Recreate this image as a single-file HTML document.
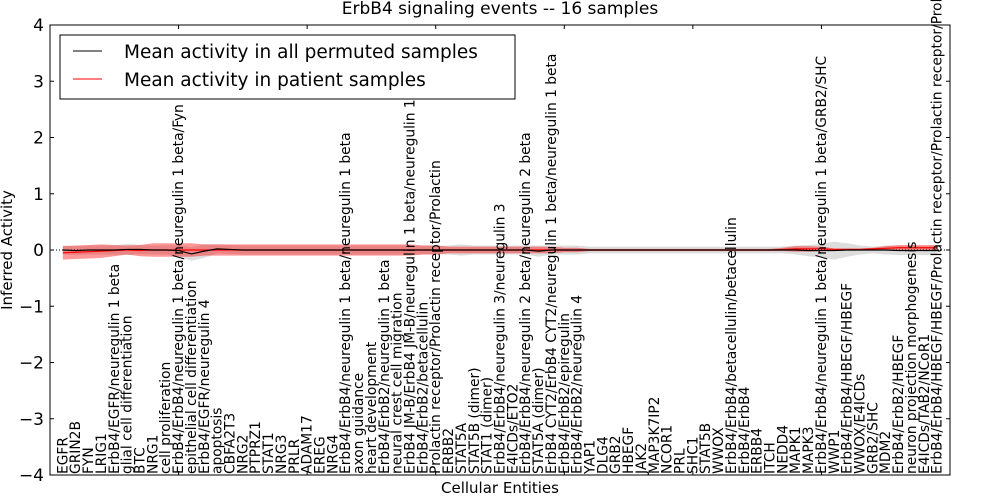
<!DOCTYPE html>
<html><head><meta charset="utf-8"><style>
html,body{margin:0;padding:0;background:#fff;}
svg{display:block;font-family:"DejaVu Sans","Liberation Sans",sans-serif;}
</style></head><body>
<svg id="chart" width="1000" height="500" viewBox="0 0 1000 500" xmlns="http://www.w3.org/2000/svg">
<text x="500" y="14" font-size="17" text-anchor="middle">ErbB4 signaling events -- 16 samples</text>
<text transform="translate(12,250) rotate(-90)" font-size="15" text-anchor="middle">Inferred Activity</text>
<text x="500" y="493" font-size="15" text-anchor="middle">Cellular Entities</text>
<g id="bands"></g>
<g id="lines"></g>
<g id="labels"></g>
<rect x="50" y="25" width="900" height="450" fill="none" stroke="#000" stroke-width="1"/>
<g id="yticks"></g>
<g id="xticks"></g>
<g>
<rect x="60" y="35" width="455" height="64" fill="#fff" stroke="#000" stroke-width="1"/>
<line x1="73" y1="51" x2="102" y2="51" stroke="#000" stroke-width="1"/>
<text x="124" y="58" font-size="18.5">Mean activity in all permuted samples</text>
<line x1="73" y1="79" x2="102" y2="79" stroke="#f00" stroke-width="1"/>
<text x="124" y="86" font-size="18.5">Mean activity in patient samples</text>
</g>
</svg>
<script>
const categories = ["EGFR","GRIN2B","FYN","LRIG1","ErbB4/EGFR/neuregulin 1 beta","glial cell differentiation","BTC","NRG1","cell proliferation","ErbB4/ErbB4/neuregulin 1 beta/neuregulin 1 beta/Fyn","epithelial cell differentiation","ErbB4/EGFR/neuregulin 4","apoptosis","CBFA2T3","NRG2","PTPRZ1","STAT1","NRG3","PRLR","ADAM17","EREG","NRG4","ErbB4/ErbB4/neuregulin 1 beta/neuregulin 1 beta","axon guidance","heart development","ErbB4/ErbB2/neuregulin 1 beta","neural crest cell migration","ErbB4 JM-B/ErbB4 JM-B/neuregulin 1 beta/neuregulin 1 beta","ErbB4/ErbB2/betacellulin","Prolactin receptor/Prolactin receptor/Prolactin","ERBB2","STAT5A","STAT5B (dimer)","STAT1 (dimer)","ErbB4/ErbB4/neuregulin 3/neuregulin 3","E4ICDs/ETO2","ErbB4/ErbB4/neuregulin 2 beta/neuregulin 2 beta","STAT5A (dimer)","ErbB4 CYT2/ErbB4 CYT2/neuregulin 1 beta/neuregulin 1 beta","ErbB4/ErbB2/epiregulin","ErbB4/ErbB2/neuregulin 4","YAP1","DLG4","GRB2","HBEGF","JAK2","MAP3K7IP2","NCOR1","PRL","SHC1","STAT5B","WWOX","ErbB4/ErbB4/betacellulin/betacellulin","ErbB4/ErbB4","ERBB4","ITCH","NEDD4","MAPK1","MAPK3","ErbB4/ErbB4/neuregulin 1 beta/neuregulin 1 beta/GRB2/SHC","WWP1","ErbB4/ErbB4/HBEGF/HBEGF","WWOX/E4ICDs","GRB2/SHC","MDM2","ErbB4/ErbB2/HBEGF","neuron projection morphogenesis","E4ICDs/TAB2/NCoR1","ErbB4/ErbB4/HBEGF/HBEGF/Prolactin receptor/Prolactin receptor/Prolactin"];
const permutedMean = [0,-0.01,0,0,0,0.01,0.01,0,0,-0.01,-0.07,-0.02,0.02,0.01,0,0,0,0,0,0,0,0,0,0,0,0,0,0,0,0,0,0,0,0,0,0,0,-0.02,0,0,0,0,0,0,0,0,0,0,0,0,0,0,0,0,0,0,0,0,-0.01,-0.01,-0.01,0,0,0,0,-0.01,-0.01,-0.01,-0.01];
const permutedSpread = [0.08,0.08,0.08,0.08,0.08,0.1,0.08,0.08,0.08,0.1,0.12,0.12,0.08,0.08,0.08,0.08,0.08,0.08,0.08,0.08,0.08,0.08,0.08,0.08,0.08,0.08,0.08,0.08,0.08,0.08,0.08,0.1,0.08,0.08,0.08,0.08,0.08,0.1,0.08,0.08,0.08,0.06,0.06,0.06,0.06,0.06,0.06,0.06,0.06,0.06,0.06,0.06,0.06,0.06,0.06,0.06,0.06,0.08,0.1,0.12,0.16,0.12,0.08,0.06,0.08,0.08,0.08,0.08,0.08];
const patientMean = [-0.05,-0.04,-0.03,-0.02,-0.01,0,-0.01,0,0,0,0,0,0,0,0,0,0,0,0,0,0,0,0,0,0,0,0,0,0,0,0,0,0,0,0,0,0,0,0,0,0,0,0,0,0,0,0,0,0,0,0,0,0,0,0,0,0.01,0.02,0.02,0.02,0.01,0.01,0.01,0.02,0.03,0.04,0.04,0.04,0.04];
const patientSpread = [0.12,0.12,0.12,0.12,0.1,0.08,0.1,0.12,0.12,0.12,0.12,0.1,0.1,0.1,0.1,0.1,0.1,0.1,0.1,0.1,0.1,0.1,0.1,0.1,0.1,0.1,0.1,0.1,0.08,0.08,0.06,0.06,0.06,0.06,0.06,0.06,0.06,0.06,0.06,0.04,0.04,0.02,0.02,0.02,0.02,0.02,0.02,0.02,0.02,0.02,0.02,0.02,0.02,0.02,0.02,0.02,0.03,0.05,0.05,0.04,0.02,0.02,0.02,0.02,0.04,0.05,0.05,0.05,0.05];
const yTicks = [-4,-3,-2,-1,0,1,2,3,4];
const xTicks = [0,10,20,30,40,50,60,70];

const NS = "http://www.w3.org/2000/svg";
const X0 = 50, X1 = 950, Y0 = 25, Y1 = 475;
const xScale = v => X0 + (v - 0) / 70 * (X1 - X0);
const yScale = v => Y1 - (v + 4) / 8 * (Y1 - Y0);
function mk(tag, attrs, parent) { const e = document.createElementNS(NS, tag); for (const k in attrs) e.setAttribute(k, attrs[k]); parent.appendChild(e); return e; }

const bands = document.getElementById('bands');
function band(mean, spread, fill, op, name) {
  let up = [], dn = [];
  mean.forEach((m, i) => { up.push(xScale(i + 1) + ',' + yScale(m + spread[i])); dn.unshift(xScale(i + 1) + ',' + yScale(m - spread[i])); });
  const p = mk('polygon', { points: up.concat(dn).join(' '), fill: fill, 'fill-opacity': op, stroke: 'none' }, bands);
  
  
}
band(permutedMean, permutedSpread, '#bbbbbb', 0.5, 'permuted-band');
band(patientMean, patientSpread, '#ff0000', 0.4, 'patient-band');

const lines = document.getElementById('lines');
const zl = mk('line', { x1: X0, x2: X1, y1: yScale(0), y2: yScale(0), stroke: '#000', 'stroke-dasharray': '1,2', 'stroke-width': 1 }, lines);


function line(arr, col, name) {
  const p = mk('polyline', { points: arr.map((m, i) => xScale(i + 1) + ',' + yScale(m)).join(' '), fill: 'none', stroke: col, 'stroke-width': 1.2 }, lines);
  
  
}
line(patientMean, '#ff0000', 'patient-mean-line');
line(permutedMean, '#000000', 'permuted-mean-line');

const labels = document.getElementById('labels');
categories.forEach((c, i) => {
  const x = xScale(i + 1) + 4.5;
  const t = mk('text', { transform: 'translate(' + x + ',474) rotate(-90)', 'font-size': 13.8 }, labels);
  t.textContent = c;
  
  
});

const yt = document.getElementById('yticks');
yTicks.forEach(v => {
  const y = yScale(v);
  mk('line', { x1: X0, x2: X0 + 4, y1: y, y2: y, stroke: '#000' }, yt);
  mk('line', { x1: X1, x2: X1 - 4, y1: y, y2: y, stroke: '#000' }, yt);
  const t = mk('text', { x: X0 - 6, y: y + 6, 'font-size': 17, 'text-anchor': 'end' }, yt);
  t.textContent = v < 0 ? '\u2212' + Math.abs(v) : String(v);
  
  
});
const xt = document.getElementById('xticks');
xTicks.forEach(v => {
  const x = xScale(v);
  const a = mk('line', { x1: x, x2: x, y1: Y0, y2: Y0 + 4, stroke: '#000' }, xt);
  
  
  mk('line', { x1: x, x2: x, y1: Y1, y2: Y1 - 4, stroke: '#000' }, xt);
});
</script>
</body></html>
